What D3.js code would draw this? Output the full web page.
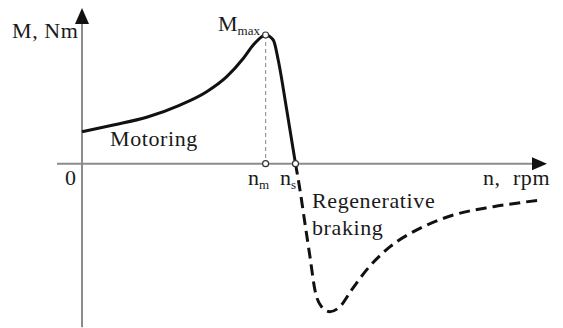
<!DOCTYPE html>
<html>
<head>
<meta charset="utf-8">
<script src="https://cdn.jsdelivr.net/npm/d3@7"></script>
<style>
  html, body { margin: 0; padding: 0; background: #fff; }
  svg { display: block; }
</style>
</head>
<body>
<svg id="chart" width="563" height="328"></svg>
<script>
// Torque–speed characteristic of an induction machine (schematic units: n in rpm, M in % of Mmax)
const motoringN = [0, 147, 303, 459, 584, 678, 756, 802, 842, 860, 896, 919, 959, 1000];
const motoringM = [24.9, 30.1, 36.1, 45.5, 55.9, 67.6, 81.9, 92.2, 98.7, 100, 96.1, 80.6, 41.7, 0];

const brakingN = [1000, 1021, 1044, 1068, 1091, 1122, 1161, 1208, 1263, 1333, 1443, 1583, 1739, 1927, 2153];
const brakingM = [0, -20.4, -46.1, -72.5, -98.1, -111.1, -115, -111.1, -98.1, -82.5, -64.5, -50.2, -39.9, -33.4, -28.2];

// Marked points on the speed axis
const nMax = 860;      // speed at maximum torque
const nSync = 1000;    // synchronous speed
const mMax = 100;

// Axis extents
const nAxis = [-117, 2178];
const mAxis = [-127, 121];

const serif = "'Liberation Serif', 'Times New Roman', Tinos, 'DejaVu Serif', serif";
const svg = d3.select("#chart");
const x = d3.scaleLinear().domain([0, 1000]).range([82, 295.5]);
const y = d3.scaleLinear().domain([0, 100]).range([163.7, 35]);

const axisColor = "#8c8c8c";

// Axes
svg.append("line")
  .attr("x1", x(nAxis[0])).attr("x2", x(nAxis[1]) - 10)
  .attr("y1", y(0)).attr("y2", y(0))
  .attr("stroke", axisColor).attr("stroke-width", 2);
svg.append("line")
  .attr("x1", x(0)).attr("x2", x(0))
  .attr("y1", y(mAxis[0])).attr("y2", y(mAxis[1]) + 10)
  .attr("stroke", axisColor).attr("stroke-width", 2);

// Arrowheads
const xt = x(nAxis[1]), yt = y(0);
svg.append("path")
  .attr("d", `M${xt},${yt} L${xt - 15},${yt - 6.5} L${xt - 15},${yt + 6.5} Z`)
  .attr("fill", "#111");
const ax = x(0), ay = y(mAxis[1]);
svg.append("path")
  .attr("d", `M${ax},${ay} L${ax - 7},${ay + 16} L${ax + 7},${ay + 16} Z`)
  .attr("fill", "#111");

// Guide from the peak down to n_m
svg.append("line")
  .attr("x1", x(nMax)).attr("x2", x(nMax))
  .attr("y1", y(mMax)).attr("y2", y(0))
  .attr("stroke", "#999").attr("stroke-width", 1.2)
  .attr("stroke-dasharray", "4,3");

const line = d3.line()
  .x(d => x(d[0])).y(d => y(d[1]))
  .curve(d3.curveMonotoneX);

// Motoring region (solid)
svg.append("path")
  .datum(d3.zip(motoringN, motoringM))
  .attr("d", line)
  .attr("fill", "none").attr("stroke", "#111").attr("stroke-width", 3);

// Regenerative braking region (dashed)
svg.append("path")
  .datum(d3.zip(brakingN, brakingM))
  .attr("d", line)
  .attr("fill", "none").attr("stroke", "#111").attr("stroke-width", 3)
  .attr("stroke-dasharray", "11,6");

// Point markers
[[nMax, mMax], [nMax, 0], [nSync, 0]].forEach(p => {
  svg.append("circle")
    .attr("cx", x(p[0])).attr("cy", y(p[1])).attr("r", 3)
    .attr("fill", "#fff").attr("stroke", "#333").attr("stroke-width", 1.2);
});

// Labels
const fs = 22;
function label(px, py, s) {
  return svg.append("text")
    .attr("x", px).attr("y", py)
    .attr("font-family", serif).attr("font-size", fs)
    .attr("letter-spacing", 0.6)
    .attr("fill", "#1a1a1a")
    .attr("xml:space", "preserve")
    .style("white-space", "pre")
    .text(s);
}
label(12, 38, "M, Nm");
label(65, 185, "0");
label(483, 185, "n,  rpm");
label(110, 146, "Motoring");
label(312, 208, "Regenerative");
label(312, 235, "braking");

function subLabel(px, py, main, sub) {
  const t = svg.append("text").attr("x", px).attr("y", py)
    .attr("font-family", serif).attr("font-size", fs).attr("fill", "#1a1a1a");
  t.append("tspan").text(main);
  t.append("tspan").attr("font-size", 13).attr("dy", 4).text(sub);
}
subLabel(218, 31, "M", "max");
subLabel(248, 185, "n", "m");
subLabel(280, 185, "n", "s");
</script>
</body>
</html>
